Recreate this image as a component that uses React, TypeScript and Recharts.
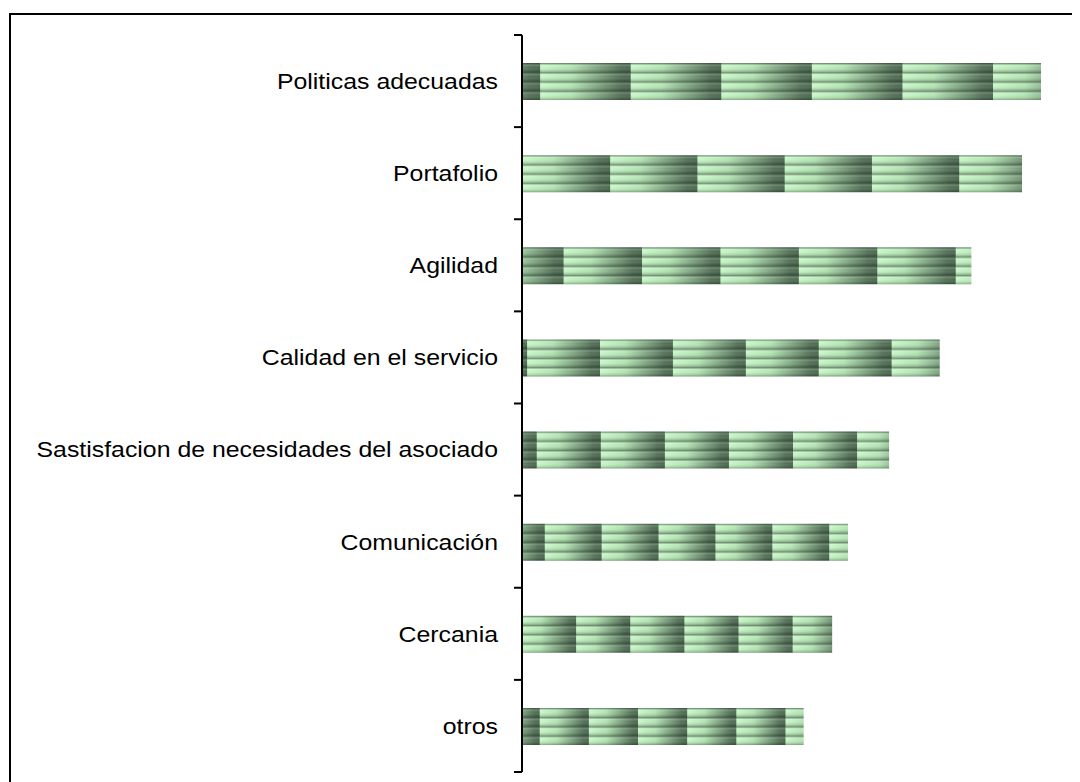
import React from "react"
import { BarChart, Bar, XAxis, YAxis, Cell } from "recharts"

// categories (top to bottom) and their share, %
const categories = [
  "Politicas adecuadas",
  "Portafolio",
  "Agilidad",
  "Calidad en el servicio",
  "Sastisfacion de necesidades del asociado",
  "Comunicación",
  "Cercania",
  "otros",
]
const shares = [16.4, 15.8, 14.2, 13.2, 11.6, 10.3, 9.8, 8.9]

// texture offset per bar, as a fraction of one texture tile
const texturePhase = [0.2, 0.01, 0.53, 0.07, 0.23, 0.4, 0.0, 0.36]

const data = categories.map((name, i) => ({ name, value: shares[i] }))

const TILES_PER_BAR = 5.73
const STRIPES = 4
const TICK_SIZE = 8
const TICK_MARGIN = 16

// texture tiles, sized relative to each bar like Excel's stretched fill
const TextureDefs = () => {
  const tw = 1 / TILES_PER_BAR
  const th = 1 / STRIPES
  return (
    <svg width={0} height={0} style={{ position: "absolute", left: 0, top: 0 }}>
      <defs>
        <linearGradient id="tex-h" x1="0" y1="0" x2="1" y2="0">
          <stop offset="0" stopColor="#c9f8c9" />
          <stop offset="0.35" stopColor="#b3e3b3" />
          <stop offset="0.88" stopColor="#56735a" />
          <stop offset="1" stopColor="#4e6a51" />
        </linearGradient>
        <linearGradient id="tex-v" x1="0" y1="0" x2="0" y2="1">
          <stop offset="0" stopColor="#2f4532" stopOpacity={0.6} />
          <stop offset="0.13" stopColor="#2f4532" stopOpacity={0.45} />
          <stop offset="0.2" stopColor="#ffffff" stopOpacity={0.2} />
          <stop offset="0.45" stopColor="#ffffff" stopOpacity={0} />
          <stop offset="0.85" stopColor="#000000" stopOpacity={0.15} />
          <stop offset="1" stopColor="#000000" stopOpacity={0.3} />
        </linearGradient>
        {categories.map((_, i) => (
          <pattern
            key={i}
            id={`tex-${i}`}
            patternUnits="objectBoundingBox"
            patternContentUnits="objectBoundingBox"
            x={texturePhase[i] * tw}
            y={0}
            width={tw}
            height={th}
          >
            <rect x={0} y={0} width={tw} height={th} fill="url(#tex-h)" />
            <rect x={0} y={0} width={tw} height={th} fill="url(#tex-v)" />
          </pattern>
        ))}
      </defs>
    </svg>
  )
}

// label plus Excel-style tick marks on the category boundaries
const CategoryTick = (props: any) => {
  const { x, y, payload, index, visibleTicksCount, height } = props
  const count = visibleTicksCount || categories.length
  const band = height / count
  const axisX = x + TICK_MARGIN + TICK_SIZE
  const tick = (ty: number) => (
    <line x1={axisX - TICK_SIZE} x2={axisX} y1={ty} y2={ty} stroke="#000" strokeWidth={2} />
  )
  return (
    <g>
      {tick(y - band / 2)}
      {index === count - 1 && tick(y + band / 2)}
      <text
        x={0}
        y={0}
        transform={`translate(${x},${y}) scale(1.13,1)`}
        textAnchor="end"
        dy="0.355em"
        fill="#000"
        fontSize={22}
        fontFamily="'Liberation Sans', Arial, sans-serif"
      >
        {payload.value}
      </text>
    </g>
  )
}

export default function App() {
  return (
    <div style={{ position: "relative", width: 1072, height: 774, overflow: "hidden", background: "#fff" }}>
      <TextureDefs />
      <div
        style={{
          position: "absolute",
          left: 1,
          top: 5,
          width: 1200,
          height: 1000,
          border: "2px solid #000",
          boxSizing: "border-box",
        }}
      />
      <div style={{ position: "absolute", left: 0, top: 0 }}>
        <BarChart
          width={1072}
          height={774}
          data={data}
          layout="vertical"
          barSize={37}
          margin={{ top: 27, right: 20, bottom: 9, left: 0 }}
        >
          <XAxis type="number" domain={[0, 17]} height={1} axisLine={false} tickLine={false} tick={false} />
          <YAxis
            type="category"
            dataKey="name"
            width={514}
            interval={0}
            axisLine={{ stroke: "#000", strokeWidth: 2 }}
            tickLine={false}
            tickSize={TICK_SIZE}
            tickMargin={TICK_MARGIN}
            tick={<CategoryTick />}
          />
          <Bar dataKey="value" fill="#7fa383" isAnimationActive={false}>
            {data.map((_, i) => (
              <Cell key={i} fill={`url(#tex-${i})`} />
            ))}
          </Bar>
        </BarChart>
      </div>
    </div>
  )
}
